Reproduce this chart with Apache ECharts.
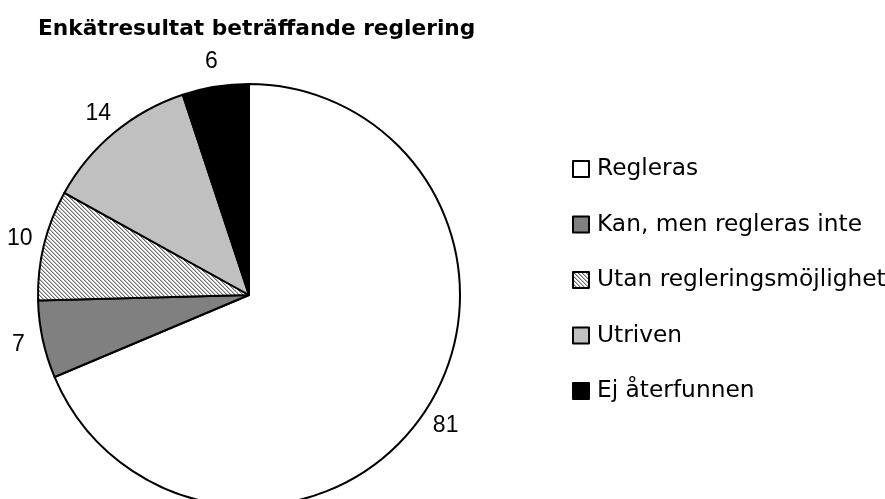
<!DOCTYPE html>
<html>
<head>
<meta charset="utf-8">
<script src="https://cdn.jsdelivr.net/npm/echarts@6/dist/echarts.min.js"></script>
<style>
html,body{margin:0;padding:0;background:#fff;}
#chart{width:885px;height:499px;}
</style>
</head>
<body>
<div id="chart"></div>
<script>
const titleText = 'Enkätresultat beträffande reglering';
const categories = ['Regleras', 'Kan, men regleras inte', 'Utan regleringsmöjlighet', 'Utriven', 'Ej återfunnen'];
const values = [81, 7, 10, 14, 6];

function makeHatch() {
  const c = document.createElement('canvas');
  c.width = 4; c.height = 4;
  const ctx = c.getContext('2d');
  const img = ctx.createImageData(4, 4);
  for (let y = 0; y < 4; y++) {
    for (let x = 0; x < 4; x++) {
      const d = ((x - y) % 4 + 4) % 4;
      const v = d === 0 ? 110 : (d === 1 ? 190 : 255);
      const i = (y * 4 + x) * 4;
      img.data[i] = v; img.data[i+1] = v; img.data[i+2] = v; img.data[i+3] = 255;
    }
  }
  ctx.putImageData(img, 0, 0);
  return c;
}
const fills = ['#ffffff', '#808080', { image: makeHatch(), repeat: 'repeat' }, '#c0c0c0', '#000000'];

const pieData = categories.map((n, i) => ({
  name: n, value: values[i],
  itemStyle: { color: fills[i] }
}));
const labelData = categories.map((n, i) => ({ name: n, value: values[i] }));

const chart = echarts.init(document.getElementById('chart'));
chart.setOption({
  animation: false,
  backgroundColor: '#ffffff',
  title: {
    text: titleText,
    left: 33, top: 13,
    textStyle: { fontFamily: 'DejaVu Sans', fontWeight: 'bold', fontSize: 21.7, color: '#000' }
  },
  legend: {
    orient: 'vertical',
    left: 572, top: 157,
    padding: 0,
    itemWidth: 16, itemHeight: 16,
    itemGap: 31.5,
    icon: 'rect',
    data: categories,
    itemStyle: { borderColor: '#000', borderWidth: 2 },
    textStyle: { fontFamily: 'DejaVu Sans', fontSize: 23.3, color: '#000', lineHeight: 24, padding: [0, 0, 0, 3] },
    selectedMode: false
  },
  series: [
    {
      type: 'pie',
      center: [249, 295],
      radius: 211,
      startAngle: 90,
      clockwise: true,
      silent: true,
      label: { show: false },
      labelLine: { show: false },
      itemStyle: { borderColor: '#000', borderWidth: 2 },
      emphasis: { disabled: true },
      data: pieData
    },
    {
      type: 'pie',
      center: [249, 295],
      radius: [211, 255],
      startAngle: 90,
      clockwise: true,
      silent: true,
      itemStyle: { color: 'rgba(0,0,0,0)', borderWidth: 0 },
      label: {
        show: true, position: 'inside',
        formatter: '{c}',
        fontFamily: 'Liberation Sans', fontSize: 23, color: '#000'
      },
      labelLine: { show: false },
      emphasis: { disabled: true },
      data: labelData
    }
  ]
});
</script>
</body>
</html>
